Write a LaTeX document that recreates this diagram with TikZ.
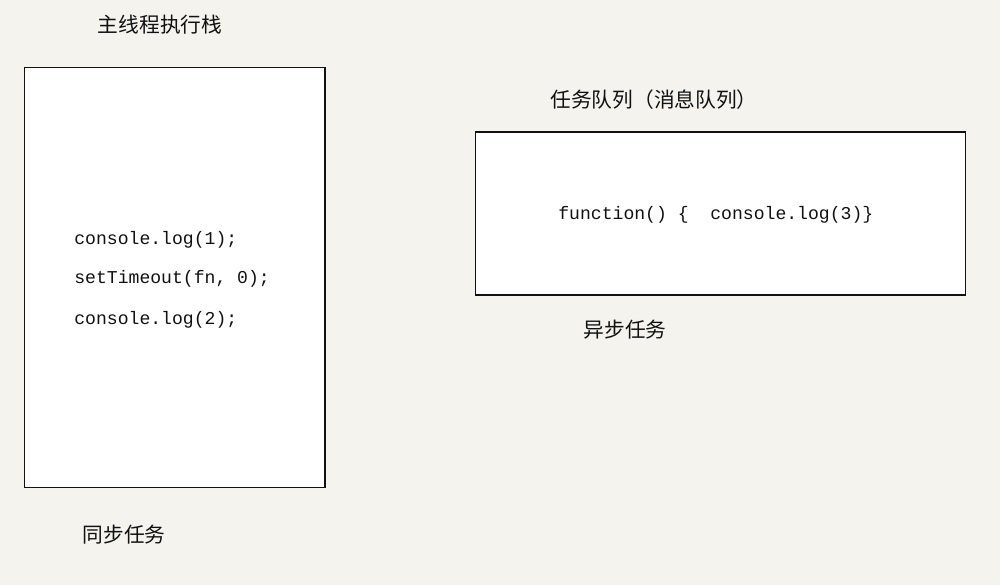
\documentclass[tikz,border=0pt]{standalone}
\usepackage{fontspec}
\setmonofont{Liberation Mono}
\newfontfamily\cjk{Noto Sans CJK SC}
\usetikzlibrary{positioning}
\definecolor{ink}{HTML}{111111}
\definecolor{paper}{HTML}{F5F3EE}
\tikzset{
  panel/.style={draw=ink, fill=white, line width=0.6pt, inner sep=0pt},
  codeline/.style={anchor=west, inner sep=0pt, text=ink, font=\fontsize{10.3}{12}\ttfamily},
  caption/.style={inner sep=0pt, text=ink, font=\fontsize{11.8}{14}\cjk}
}

\begin{document}
\begin{tikzpicture}[x=0.02cm, y=-0.02cm]
  \fill[paper] (0,0) rectangle (1000,585);
  \useasboundingbox (0,0) rectangle (1000,585);
  % main thread stack
  \node[panel, minimum width=6.02cm, minimum height=8.42cm] (stack) at (174.5,277.5) {};
  \node[caption] (stacktitle) at (160,25) {主线程执行栈};
  \node[codeline] (log1) at (74,240) {console.log(1);};
  \node[codeline] (timer) at (74,279) {setTimeout(fn, 0);};
  \node[codeline] (log2) at (74,320) {console.log(2);};
  \node[caption] (synclabel) at (124,535) {同步任务};
  % task queue
  \node[panel, minimum width=9.82cm, minimum height=3.26cm] (queue) at (720.5,213.5) {};
  \node[caption] (queuetitle) at (654,100) {任务队列（消息队列）};
  \node[codeline] (callback) at (558,215) {function() \{\ \ console.log(3)\}};
  \node[caption] (asynclabel) at (625,330) {异步任务};
\end{tikzpicture}
\end{document}
